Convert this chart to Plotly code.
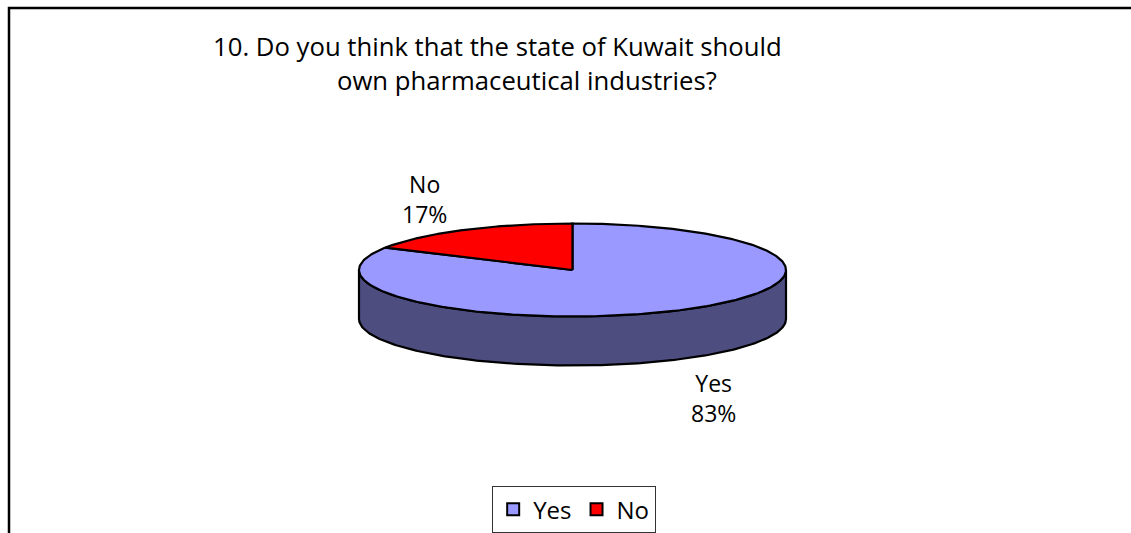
import numpy as np
import plotly.graph_objects as go

# Survey answers
categories = ["Yes", "No"]
values = [83, 17]
top_colors = ["#9999FF", "#FF0000"]
side_colors = ["#4D4D80", "#800000"]

title_lines = ["10. Do you think that the state of Kuwait should",
               "own pharmaceutical industries?"]

W, H = 1131, 533
FONT = "Open Sans"

# 3D pie geometry in pixel space (axis units == pixels)
cx, cy = 572.5, 270.0
ra, rb = 213.5, 46.5
depth = 49.0
start_deg = 90.0  # slices start at 12 o'clock

total = float(sum(values))
# first slice runs clockwise from the top, so the last one sits just
# counter-clockwise of 12 o'clock
ranges = []
a0 = start_deg
for v in values:
    sweep = 360.0 * v / total
    ranges.append((a0 - sweep, a0))
    a0 -= sweep


def pt(theta_deg, dy=0.0):
    t = np.radians(theta_deg)
    return cx + ra * np.cos(t), cy - rb * np.sin(t) + dy


fig = go.Figure()

# side wall: only the front half (180..360 deg) is visible
for (t1, t2), col in zip(ranges, side_colors):
    for shift in (-360.0, 0.0, 360.0):
        lo = max(t1 + shift, 180.0)
        hi = min(t2 + shift, 360.0)
        if hi <= lo:
            continue
        th = np.linspace(lo, hi, 200)
        xs_top, ys_top = pt(th)
        xs_bot, ys_bot = pt(th[::-1], depth)
        xs = np.concatenate([xs_top, xs_bot, xs_top[:1]])
        ys = np.concatenate([ys_top, ys_bot, ys_top[:1]])
        fig.add_trace(go.Scatter(x=xs, y=ys, mode="lines", fill="toself",
                                 fillcolor=col, line=dict(color="black", width=2.2),
                                 hoverinfo="skip", showlegend=False))

# top faces
for (t1, t2), col in zip(ranges, top_colors):
    th = np.linspace(t1, t2, 300)
    xs_arc, ys_arc = pt(th)
    xs = np.concatenate([[cx], xs_arc, [cx]])
    ys = np.concatenate([[cy], ys_arc, [cy]])
    fig.add_trace(go.Scatter(x=xs, y=ys, mode="lines", fill="toself",
                             fillcolor=col, line=dict(color="black", width=2.2),
                             hoverinfo="skip", showlegend=False))

# legend entries
for name, col in zip(categories, top_colors):
    fig.add_trace(go.Scatter(x=[None], y=[None], mode="markers", name=name,
                             marker=dict(symbol="square", size=15, color=col,
                                         line=dict(color="black", width=1.5))))

# data labels (name on one line, percentage below)
label_pos = {"Yes": (713, 398), "No": (424, 199)}
for name, v in zip(categories, values):
    x, y = label_pos[name]
    fig.add_annotation(x=x, y=y, xref="x", yref="y", showarrow=False,
                       text=f"{name}<br>{round(100 * v / total)}%", align="center",
                       font=dict(family=FONT, size=23, color="black"))

# title
for line, (x, y) in zip(title_lines, [(497, 46), (527, 80)]):
    fig.add_annotation(x=x, y=y, xref="x", yref="y", showarrow=False, text=line,
                       font=dict(family=FONT, size=25.7, color="black"))

# outer frame (extends past the right and bottom edges)
fig.add_shape(type="rect", xref="x", yref="y", x0=9, y0=8, x1=W + 20, y1=H + 20,
              line=dict(color="black", width=2.5), fillcolor="rgba(0,0,0,0)")

fig.update_layout(
    width=W, height=H, margin=dict(l=0, r=0, t=0, b=0),
    paper_bgcolor="white", plot_bgcolor="white",
    xaxis=dict(range=[0, W], visible=False, fixedrange=True),
    yaxis=dict(range=[H, 0], visible=False, fixedrange=True),
    showlegend=True,
    legend=dict(orientation="h", x=0.5075, xanchor="center", y=0.0, yanchor="bottom",
                bgcolor="white", bordercolor="#333333", borderwidth=1.2,
                font=dict(family=FONT, size=24, color="black"),
                itemsizing="constant", itemwidth=30, tracegroupgap=0),
)

fig.write_html("out.html")
